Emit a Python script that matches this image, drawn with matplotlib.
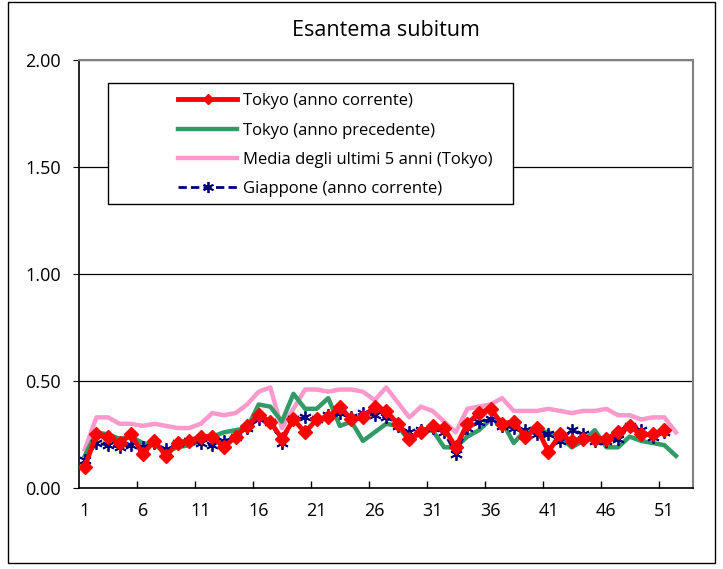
import numpy as np
import matplotlib.pyplot as plt
from matplotlib.patches import Rectangle

plt.rcParams['font.family'] = ['Open Sans', 'DejaVu Sans']

# weekly values
weeks = list(range(1, 53))

tokyo_now = [0.10, 0.25, 0.24, 0.21, 0.25, 0.16, 0.22, 0.15, 0.21, 0.22,
             0.24, 0.24, 0.19, 0.24, 0.29, 0.34, 0.31, 0.23, 0.32, 0.26,
             0.32, 0.33, 0.38, 0.32, 0.33, 0.38, 0.36, 0.30, 0.23, 0.26,
             0.29, 0.28, 0.19, 0.30, 0.35, 0.37, 0.30, 0.31, 0.24, 0.28,
             0.17, 0.25, 0.22, 0.23, 0.23, 0.23, 0.26, 0.29, 0.25, 0.25,
             0.27]

tokyo_prev = [0.15, 0.26, 0.25, 0.23, 0.24, 0.21, 0.20, 0.17, 0.19, 0.20,
              0.22, 0.24, 0.26, 0.27, 0.28, 0.39, 0.38, 0.31, 0.44, 0.37,
              0.37, 0.42, 0.29, 0.31, 0.22, 0.26, 0.30, 0.29, 0.22, 0.26,
              0.27, 0.19, 0.19, 0.24, 0.27, 0.32, 0.31, 0.21, 0.27, 0.27,
              0.26, 0.24, 0.19, 0.22, 0.27, 0.19, 0.19, 0.24, 0.22, 0.21,
              0.20, 0.15]

avg_5y = [0.18, 0.33, 0.33, 0.30, 0.30, 0.29, 0.30, 0.29, 0.28, 0.28,
          0.30, 0.35, 0.34, 0.35, 0.39, 0.45, 0.47, 0.28, 0.37, 0.46,
          0.46, 0.45, 0.46, 0.46, 0.45, 0.41, 0.47, 0.40, 0.33, 0.38,
          0.36, 0.31, 0.26, 0.37, 0.38, 0.39, 0.42, 0.36, 0.36, 0.36,
          0.37, 0.36, 0.35, 0.36, 0.36, 0.37, 0.34, 0.34, 0.32, 0.33,
          0.33, 0.26]

japan_now = [0.13, 0.21, 0.20, 0.19, 0.20, 0.19, 0.21, 0.18, 0.21, 0.22,
             0.21, 0.20, 0.22, 0.24, 0.28, 0.32, 0.31, 0.21, 0.32, 0.33,
             0.32, 0.34, 0.35, 0.33, 0.35, 0.34, 0.33, 0.29, 0.26, 0.27,
             0.28, 0.26, 0.16, 0.28, 0.31, 0.32, 0.29, 0.28, 0.27, 0.25,
             0.25, 0.22, 0.27, 0.25, 0.22, 0.22, 0.23, 0.29, 0.27, 0.24,
             0.26]

labels = ['Tokyo (anno corrente)', 'Tokyo (anno precedente)',
          'Media degli ultimi 5 anni (Tokyo)', 'Giappone (anno corrente)']

fig = plt.figure(figsize=(7.23, 5.69), dpi=100)
ax = fig.add_axes([0.1093, 0.1424, 0.8497, 0.7522])

l2, = ax.plot(weeks[:len(tokyo_prev)], tokyo_prev, color='#339966', lw=3.2, zorder=3)
l3, = ax.plot(weeks[:len(avg_5y)], avg_5y, color='#FF99CC', lw=3.2, zorder=2)
l4, = ax.plot(weeks[:len(japan_now)], japan_now, color='#000080', lw=2,
              ls=(0, (3, 1.5)), marker=(6, 2, 0), ms=9, mew=1.3, zorder=4)
l1, = ax.plot(weeks[:len(tokyo_now)], tokyo_now, color='#FF0000', lw=3.5,
              marker='D', ms=7, zorder=5)

ax.set_xlim(0.5, 53.5)
ax.set_ylim(0, 2)
ax.set_yticks([0, 0.5, 1.0, 1.5, 2.0])
ax.set_yticklabels(['0.00', '0.50', '1.00', '1.50', '2.00'])
ax.set_xticks(weeks[::5])
ax.set_xticklabels([str(w) for w in weeks[::5]])
ax.set_xticks(np.arange(5.5, 53, 5), minor=True)
ax.tick_params(axis='x', which='major', length=0, pad=10, labelsize=13)
ax.tick_params(axis='x', which='minor', direction='in', length=5, width=1)
ax.tick_params(axis='y', direction='out', length=4, pad=9, labelsize=13)

ax.grid(axis='y', color='black', lw=0.9)
ax.set_axisbelow(True)
for side in ['top', 'right']:
    ax.spines[side].set_color('#808080')
    ax.spines[side].set_linewidth(1.5)
for side in ['left', 'bottom']:
    ax.spines[side].set_color('black')
    ax.spines[side].set_linewidth(1.2)

fig.text(386 / 723, 1 - 31 / 569, 'Esantema subitum', ha='center', va='center',
         fontsize=15.5)

# legend box
fig.patches.append(Rectangle((108 / 723, 1 - 204 / 569), 405 / 723, 121 / 569,
                             transform=fig.transFigure, facecolor='white',
                             edgecolor='black', lw=1, zorder=10))
leg = fig.legend([l1, l2, l3, l4], labels, loc='upper left',
                 bbox_to_anchor=(170 / 723, 1 - 85 / 569), frameon=False,
                 fontsize=12, handlelength=3.5, handletextpad=0.4,
                 labelspacing=0.8, borderpad=0)
leg.set_zorder(11)
for h in leg.legend_handles:
    h.set_markersize(5 if h.get_marker() == 'D' else 8)

# outer chart border
fig.patches.append(Rectangle((8 / 723, 1 - 563 / 569), 707 / 723, 561 / 569,
                             transform=fig.transFigure, fill=False,
                             edgecolor='black', lw=1))

fig.savefig('out.png', dpi=100)
